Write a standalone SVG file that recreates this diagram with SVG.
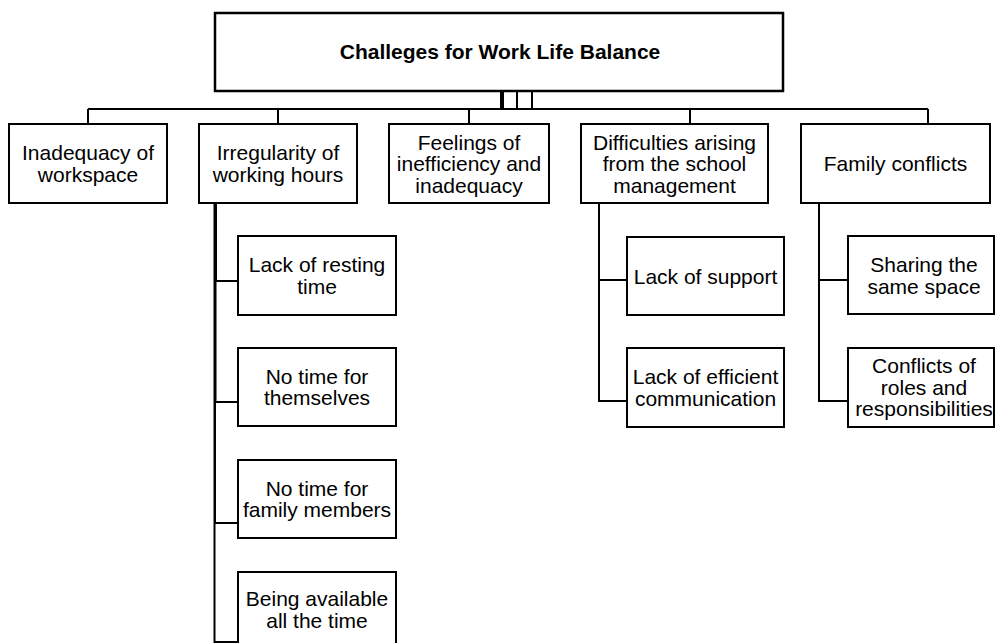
<svg xmlns="http://www.w3.org/2000/svg" width="996" height="643" viewBox="0 0 996 643">
<style>
.box{fill:#fff;stroke:#000;stroke-width:2}
.top{fill:#fff;stroke:#000;stroke-width:2.5}
.t{font-family:"Liberation Sans",Arial,sans-serif;font-size:21px;fill:#000;text-anchor:middle}
.tb{font-weight:bold}
.c{fill:none;stroke:#000;stroke-width:2}
</style>
<rect width="996" height="643" fill="#fff"/>
<g id="connectors" class="c">
<path d="M501 91V109M503 91V109M517 91V109M532 91V109"/>
<path d="M88 109H928"/>
<path d="M88 109V124M278 109V124M469 109V124M690 109V124M928 109V124"/>
<path d="M216 203V281H238"/>
<path d="M215.5 203V402H238"/>
<path d="M215 203V523H238"/>
<path d="M214.5 203V642H238"/>
<path d="M599 203V280H627"/>
<path d="M599 203V401H627"/>
<path d="M819 203V280H848"/>
<path d="M819 203V401H848"/>
</g>
<g id="root"><rect class="top" x="215" y="13" width="568" height="78"/><text class="t tb" x="500" y="59">Challeges for Work Life Balance</text></g>
<g id="b1"><rect class="box" x="9" y="124" width="158" height="79"/><text class="t" x="88" y="160">Inadequacy of</text><text class="t" x="88" y="181.5">workspace</text></g>
<g id="b2"><rect class="box" x="199" y="124" width="158" height="79"/><text class="t" x="278" y="160">Irregularity of</text><text class="t" x="278" y="181.5">working hours</text></g>
<g id="b3"><rect class="box" x="389" y="124" width="160" height="79"/><text class="t" x="469" y="149.5">Feelings of</text><text class="t" x="469" y="171">inefficiency and</text><text class="t" x="469" y="192.5">inadequacy</text></g>
<g id="b4"><rect class="box" x="581" y="124" width="187" height="79"/><text class="t" x="674.5" y="149.5">Difficulties arising</text><text class="t" x="674.5" y="171">from the school</text><text class="t" x="674.5" y="192.5">management</text></g>
<g id="b5"><rect class="box" x="801" y="124" width="189" height="79"/><text class="t" x="895.5" y="171">Family conflicts</text></g>
<g id="c1"><rect class="box" x="238" y="236" width="158" height="79"/><text class="t" x="317" y="272">Lack of resting</text><text class="t" x="317" y="293.5">time</text></g>
<g id="c2"><rect class="box" x="238" y="348" width="158" height="78"/><text class="t" x="317" y="383.5">No time for</text><text class="t" x="317" y="405">themselves</text></g>
<g id="c3"><rect class="box" x="238" y="460" width="158" height="78"/><text class="t" x="317" y="495.5">No time for</text><text class="t" x="317" y="517">family members</text></g>
<g id="c4"><rect class="box" x="238" y="572" width="158" height="78"/><text class="t" x="317" y="606">Being available</text><text class="t" x="317" y="627.5">all the time</text></g>
<g id="d1"><rect class="box" x="627" y="237" width="157" height="78"/><text class="t" x="705.5" y="283.5">Lack of support</text></g>
<g id="d2"><rect class="box" x="627" y="348" width="157" height="79"/><text class="t" x="705.5" y="384">Lack of efficient</text><text class="t" x="705.5" y="405.5">communication</text></g>
<g id="e1"><rect class="box" x="848" y="236" width="146" height="78"/><text class="t" x="924" y="272">Sharing the</text><text class="t" x="924" y="293.5">same space</text></g>
<g id="e2"><rect class="box" x="848" y="348" width="146" height="79"/><text class="t" x="924" y="373">Conflicts of</text><text class="t" x="924" y="394.5">roles and</text><text class="t" x="924" y="416">responsibilities</text></g>
</svg>
